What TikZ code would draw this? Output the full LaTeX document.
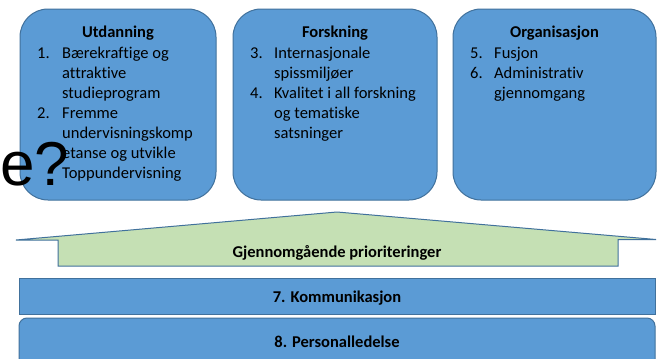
\documentclass[tikz,border=0pt]{standalone}
\usepackage{fontspec}
\setmainfont{Carlito}[Ligatures={NoCommon}]
\newfontfamily\overlayfont{Liberation Sans}
\usepackage{array}
\definecolor{boxblue}{HTML}{5B9BD5}
\definecolor{edgeblue}{HTML}{41719C}
\definecolor{lightgreen}{HTML}{C5E0B4}
\tikzset{
  topbox/.style={draw=edgeblue, fill=boxblue, line width=1pt, rounded corners=28pt, minimum width=196pt, minimum height=191pt, inner sep=0pt},
  bartxt/.style={anchor=base, font=\fontsize{16.5}{20}\selectfont\bfseries, inner sep=0pt},
  listtxt/.style={anchor=base west, inner sep=0pt, font=\fontsize{16.5}{20}\selectfont},
}
\begin{document}
\begin{tikzpicture}[x=1pt,y=-1pt]
\clip (0,0) rectangle (657,359);
\fill[white] (0,0) rectangle (657,359);
% top boxes
\node[topbox] (b1) at (118,104.5) {};
\node[topbox, minimum width=204pt] (b2) at (335,104.5) {};
\node[topbox, minimum width=203pt] (b3) at (554.5,104.5) {};
% titles
\node[bartxt] (t1) at (118,37) {Utdanning};
\node[bartxt] (t2) at (335,37) {Forskning};
\node[bartxt] (t3) at (554.5,37) {Organisasjon};
% lists
\node[listtxt] (l1) at (37,58) {\begin{tabular}[t]{@{}p{25pt}@{}l@{}}
1. & Bærekraftige og\\ & attraktive\\ & studieprogram\\
2. & Fremme\\ & undervisningskomp\\ & etanse og utvikle\\ & Toppundervisning
\end{tabular}};
\node[listtxt] (l2) at (250,58) {\begin{tabular}[t]{@{}p{24pt}@{}l@{}}
3. & Internasjonale\\ & spissmiljøer\\
4. & Kvalitet i all forskning\\ & og tematiske\\ & satsninger
\end{tabular}};
\node[listtxt] (l3) at (470,58) {\begin{tabular}[t]{@{}p{24pt}@{}l@{}}
5. & Fusjon\\
6. & Administrativ\\ & gjennomgang
\end{tabular}};
% arrow
\draw[draw=edgeblue, fill=lightgreen, line width=1pt, line join=miter]
  (16,240) -- (337,212) -- (656,239.5) -- (618,239.5) -- (618,266) -- (58,266) -- (58,240) -- cycle;
\node[bartxt] (g) at (337,257) {Gjennomgående prioriteringer};
% bars
\draw[draw=edgeblue, fill=boxblue, line width=1pt] (19,278) rectangle (655,314);
\node[bartxt] (k) at (337,302) {7. Kommunikasjon};
\draw[draw=edgeblue, fill=boxblue, line width=1pt, rounded corners=8pt] (19,370) -- (19,318) -- (655,318) -- (655,370);
\node[bartxt] (p) at (337,347) {8. Personalledelse};
% overlay glyphs
\node[anchor=base west, inner sep=0pt, font=\overlayfont\fontsize{62}{62}\selectfont] (ov) at (0,185) {e?};
\end{tikzpicture}
\end{document}
